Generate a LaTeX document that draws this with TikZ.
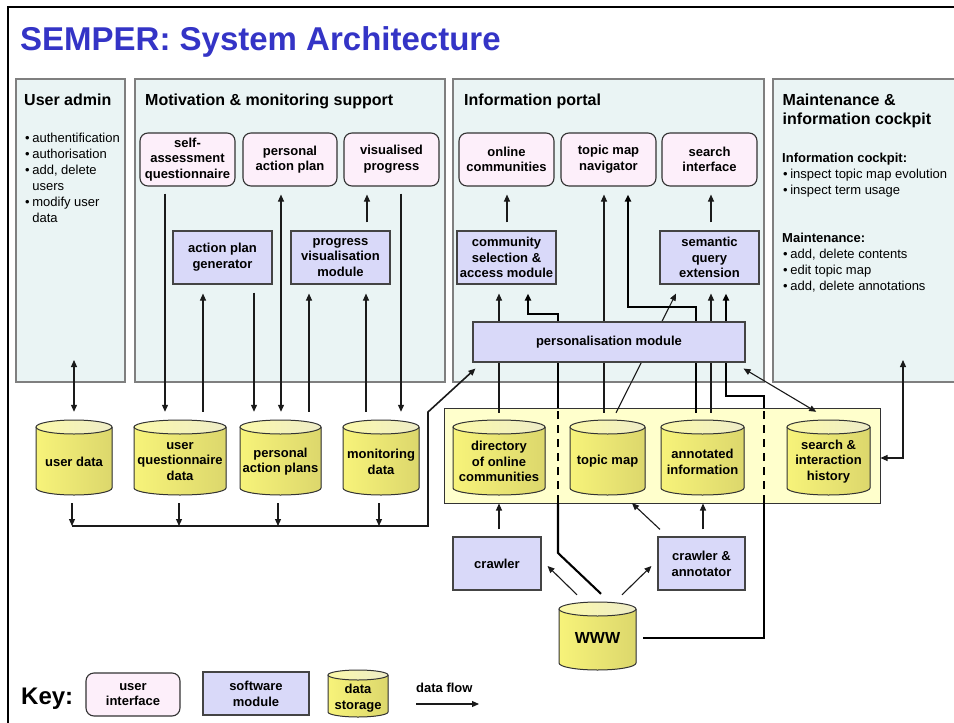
\documentclass[tikz,border=0pt]{standalone}
\usepackage{fontspec}
\setmainfont{Liberation Sans}
\usetikzlibrary{arrows.meta}
\definecolor{panelfill}{HTML}{EAF4F4}
\definecolor{panelline}{HTML}{7F7F7F}
\definecolor{uifill}{HTML}{FDEFFA}
\definecolor{uiline}{HTML}{333333}
\definecolor{swfill}{HTML}{D9D9F9}
\definecolor{swline}{HTML}{444444}
\definecolor{storebox}{HTML}{FFFFCC}
\definecolor{storeline}{HTML}{333333}
\definecolor{cylA}{HTML}{F7F37A}
\definecolor{cylB}{HTML}{DCD76C}
\definecolor{cylTopA}{HTML}{FBF9A8}
\definecolor{cylTopB}{HTML}{EEECC8}
\definecolor{cylborder}{HTML}{333333}
\definecolor{titleblue}{HTML}{3434C6}
\definecolor{ink}{HTML}{1A1A1A}
\pgfdeclarelayer{bglayer}
\pgfdeclarelayer{linelayer}
\pgfsetlayers{bglayer,linelayer,main}
\newcommand\boxfont{\fontsize{13}{15.7}\selectfont\bfseries}
\newcommand\txtfont{\fontsize{13}{16}\selectfont}
\newcommand\cylry{7}
% name, x0, x1, y0, y1, text offset, text
\newcommand\mycyl[7]{%
  \pgfmathsetmacro\cylxc{(#2+#3)/2}%
  \pgfmathsetmacro\cylrx{(#3-#2)/2}%
  \pgfmathsetmacro\cylyc{(#4+#5)/2}%
  \pgfmathsetmacro\cylw{#3-#2}%
  \pgfmathsetmacro\cylh{#5-#4}%
  \fill[left color=cylA,right color=cylB] (#2,#4+\cylry) -- (#2,#5-\cylry) arc[start angle=180,end angle=360,x radius=\cylrx pt,y radius=\cylry pt] -- (#3,#4+\cylry) -- cycle;
  \draw[cylline] (#2,#4+\cylry) -- (#2,#5-\cylry) arc[start angle=180,end angle=360,x radius=\cylrx pt,y radius=\cylry pt] -- (#3,#4+\cylry);
  \draw[cylline,left color=cylTopA,right color=cylTopB] (\cylxc,#4+\cylry) ellipse[x radius=\cylrx pt,y radius=\cylry pt];
  \node[inner sep=0pt,minimum width=\cylw pt,minimum height=\cylh pt] (#1) at (\cylxc,\cylyc) {};
  \node[align=center,font=\boxfont,inner sep=0pt] (#1-t) at (\cylxc,\cylyc+#6) {#7};
}
\begin{document}
\begin{tikzpicture}[x=1pt,y=-1pt,
  panel/.style={draw=panelline,fill=panelfill,line width=1.2pt,inner sep=0pt},
  ptitle/.style={anchor=base west,inner sep=0pt,font=\fontsize{16}{19}\selectfont\bfseries},
  ui/.style={draw=uiline,fill=uifill,rounded corners=8pt,line width=1.1pt,inner sep=0pt,align=center,font=\boxfont},
  sw/.style={draw=swline,fill=swfill,line width=1.1pt,inner sep=0pt,align=center,font=\boxfont},
  cylline/.style={draw=cylborder,line width=1pt},
  arr/.style={-{Triangle[length=7pt,width=6pt]},line width=1.1pt,draw=ink},
  darr/.style={{Triangle[length=7pt,width=6pt]}-{Triangle[length=7pt,width=6pt]},line width=1.1pt,draw=ink},
  thk/.style={line width=2.1pt,draw=black},
  thkarr/.style={line width=2.1pt,draw=black,-{Triangle[length=7pt,width=6pt]}},
  dsh/.style={line width=2pt,draw=black,dash pattern=on 8pt off 6pt},
  txt/.style={anchor=base west,inner sep=0pt,font=\txtfont}]
\useasboundingbox (0,0) rectangle (954,723);

% outer frame
\draw[line width=2.2pt] (8,735) -- (8,7) -- (965,7);

% title
\node[anchor=base west,inner sep=0pt,text=titleblue,font=\fontsize{33}{38}\selectfont\bfseries] (title) at (20,50) {SEMPER: System Architecture};

\begin{pgfonlayer}{bglayer}
\node[panel,minimum width=109pt,minimum height=303pt] (pUA) at (70.5,230.5) {};
\node[panel,minimum width=310pt,minimum height=303pt] (pMM) at (290,230.5) {};
\node[panel,minimum width=311pt,minimum height=303pt] (pIP) at (608.5,230.5) {};
\node[panel,minimum width=202pt,minimum height=303pt] (pMC) at (874,230.5) {};
\node[draw=storeline,fill=storebox,line width=1pt,inner sep=0pt,minimum width=436pt,minimum height=95pt] (sg) at (662,455.5) {};
\end{pgfonlayer}

% panel titles
\node[ptitle] (tUA) at (24,105) {User admin};
\node[ptitle] (tMM) at (145,105) {Motivation \& monitoring support};
\node[ptitle] (tIP) at (464,105) {Information portal};
\node[ptitle] (tMCa) at (782.5,105) {Maintenance \&};
\node[ptitle] (tMCb) at (782.5,124) {information cockpit};

% panel texts
\node[txt] (uaList) at (25,142.7) {\begin{tabular}[t]{@{}l@{\hspace{2.6pt}}l@{}}•&authentification\\•&authorisation\\•&add, delete\\&users\\•&modify user\\&data\end{tabular}};
\node[txt,font=\txtfont\bfseries] (mcH1) at (782,162.7) {Information cockpit:};
\node[txt] (mcL1) at (783,178.3) {\begin{tabular}[t]{@{}l@{\hspace{2.6pt}}l@{}}•&inspect topic map evolution\\•&inspect term usage\end{tabular}};
\node[txt,font=\txtfont\bfseries] (mcH2) at (782,242.3) {Maintenance:};
\node[txt] (mcL2) at (783,258.3) {\begin{tabular}[t]{@{}l@{\hspace{2.6pt}}l@{}}•&add, delete contents\\•&edit topic map\\•&add, delete annotations\end{tabular}};

% user interfaces
\node[ui,minimum width=95pt,minimum height=53pt] (sa) at (187.5,159.5) {self-\\assessment\\questionnaire};
\node[ui,minimum width=94pt,minimum height=53pt] (pap) at (290,159.5) {personal\\action plan};
\node[ui,minimum width=95pt,minimum height=53pt] (vp) at (391.5,159.5) {visualised\\progress};
\node[ui,minimum width=95pt,minimum height=53pt] (oc) at (506.5,159.5) {online\\communities};
\node[ui,minimum width=95pt,minimum height=53pt] (tmn) at (608.5,159.5) {topic map\\navigator};
\node[ui,minimum width=95pt,minimum height=53pt] (si) at (709.5,159.5) {search\\interface};

% software modules
\node[sw,minimum width=99pt,minimum height=53pt] (apg) at (222.5,257.5) {action plan\\generator};
\node[sw,minimum width=99pt,minimum height=53pt] (pvm) at (340.5,257.5) {progress\\visualisation\\module};
\node[sw,minimum width=99pt,minimum height=53pt] (csa) at (506.5,257.5) {community\\selection \&\\access module};
\node[sw,minimum width=99pt,minimum height=53pt] (sqe) at (709.5,257.5) {semantic\\query\\extension};
\node[sw,minimum width=272pt,minimum height=40pt] (pm) at (609,342) {personalisation module};
\node[sw,minimum width=88pt,minimum height=53pt] (cr) at (497,563.5) {crawler};
\node[sw,minimum width=87pt,minimum height=53pt] (ca) at (701.5,563.5) {crawler \&\\annotator};

% data storage
\mycyl{ud}{36}{112}{420}{495}{4}{user data}
\mycyl{uqd}{134}{226}{420}{495}{4}{user\\questionnaire\\data}
\mycyl{papl}{240}{321}{420}{495}{4}{personal\\action plans}
\mycyl{md}{343}{419}{420}{495}{4}{monitoring\\data}
\mycyl{doc}{453}{545}{420}{495}{4}{directory\\of online\\communities}
\mycyl{tm}{570}{645}{420}{495}{4}{topic map}
\mycyl{ai}{661}{744}{420}{495}{4}{annotated\\information}
\mycyl{sih}{787}{870}{420}{495}{4}{search \&\\interaction\\history}
\mycyl{www}{559}{636}{602}{670}{2}{\fontsize{16}{19}\selectfont WWW}

% key
\node[anchor=base west,inner sep=0pt,font=\fontsize{24}{28}\selectfont\bfseries] (key) at (21,704) {Key:};
\node[ui,minimum width=94pt,minimum height=43pt] (kui) at (133,694.5) {user\\interface};
\node[sw,minimum width=106pt,minimum height=43pt] (ksw) at (256,693.5) {software\\module};
\renewcommand\cylry{5}
\mycyl{kds}{328}{388}{670}{717}{4.5}{data\\storage}
\node[anchor=base west,inner sep=0pt,font=\boxfont] (kdf) at (416,692) {data flow};

\begin{pgfonlayer}{linelayer}
\coordinate (kfa) at (416,704);
\coordinate (kfb) at (479,704);
\draw[arr] (kfa) -- (kfb);

% motivation & user admin
\coordinate (uain) at (74,360);
\draw[darr,shorten >=8pt] (uain) -- (74,0 |- ud.north);
\draw[arr,shorten <=7pt,shorten >=8pt] (165,0 |- sa.south) -- (165,0 |- uqd.north);
\draw[arr,shorten <=8pt,shorten >=9pt] (203,0 |- uqd.north) -- (203,0 |- apg.south);
\draw[arr,shorten <=8pt,shorten >=8pt] (254,0 |- apg.south) -- (254,0 |- papl.north);
\draw[darr,shorten <=8pt,shorten >=8pt] (281,0 |- pap.south) -- (281,0 |- papl.north);
\draw[arr,shorten <=8pt,shorten >=9pt] (309,0 |- papl.north) -- (309,0 |- pvm.south);
\draw[arr,shorten <=8pt,shorten >=9pt] (366,0 |- md.north) -- (366,0 |- pvm.south);
\draw[arr,shorten <=8pt,shorten >=8pt] (367,0 |- pvm.north) -- (367,0 |- vp.south);
\draw[arr,shorten <=7pt,shorten >=8pt] (401,0 |- vp.south) -- (401,0 |- md.north);

% information portal
\draw[arr,shorten <=8pt,shorten >=8pt] (507,0 |- csa.north) -- (507,0 |- oc.south);
\draw[arr,shorten <=8pt,shorten >=8pt] (711,0 |- sqe.north) -- (711,0 |- si.south);
\draw[arr,shorten <=7pt,shorten >=9pt] (499,0 |- doc.north) -- (499,0 |- csa.south);
\draw[arr,shorten <=7pt,shorten >=8pt] (604,0 |- tm.north) -- (604,0 |- tmn.south);
\draw[arr] ([xshift=8.5pt,yshift=7pt]tm.north) -- ([xshift=-33.5pt,yshift=-9pt]sqe.south);
\draw[arr,shorten <=7pt,shorten >=9pt] (711,0 |- ai.north) -- (711,0 |- sqe.south);
\draw[thkarr] ([xshift=-6.5pt,yshift=7pt]ai.north) |- (628,307) -- ([xshift=19.5pt,yshift=-8pt]tmn.south);

% WWW to community selection
\coordinate (dA1) at (558,503);
\coordinate (dA2) at (558,408);
\draw[thk] ([xshift=3.5pt,yshift=8pt]www.north) -- (558,553) -- (dA1);
\draw[dsh] (dA1) -- (dA2);
\draw[thkarr] (dA2) -- (558,314) -- (528,314) -- ([xshift=21.5pt,yshift=-9pt]csa.south);

% WWW to semantic query extension
\coordinate (dB1) at (764,503);
\coordinate (dB2) at (764,408);
\draw[thk] ([xshift=7pt,yshift=-2pt]www.east) -| (dB1);
\draw[dsh] (dB1) -- (dB2);
\draw[thkarr] (dB2) -- (764,396) -- (726,396) -- ([xshift=16.5pt,yshift=-9pt]sqe.south);

% personalisation and history
\draw[darr] ([xshift=-2pt,yshift=-6pt]pm.south east) -- ([xshift=-12.3pt,yshift=8pt]sih.north);
\coordinate (mcin) at (903,360);
\draw[darr] (mcin) |- ([yshift=-2.5pt]sg.east);

% bus
\coordinate (busL) at (72,526);
\coordinate (busR) at (428,526);
\draw[arr,shorten <=8pt] (72,0 |- ud.south) -- (72,0 |- busL);
\draw[arr,shorten <=8pt] (179,0 |- uqd.south) -- (179,0 |- busL);
\draw[arr,shorten <=8pt] (278,0 |- papl.south) -- (278,0 |- busL);
\draw[arr,shorten <=8pt] (379,0 |- md.south) -- (379,0 |- busL);
\draw[line width=1.6pt,draw=ink,-{Triangle[length=7pt,width=6pt]}] (busL) -- (busR) -- (428,412) -- ([xshift=3pt,yshift=-6pt]pm.south west);

% crawlers
\draw[arr,shorten <=7pt] (499,0 |- cr.north) -- (499,0 |- sg.south);
\draw[arr] ([xshift=-41.5pt,yshift=7pt]ca.north) -- ([xshift=24.5pt,yshift=-8pt]tm.south);
\draw[arr,shorten <=7pt] (703,0 |- ca.north) -- (703,0 |- sg.south);
\draw[arr] ([xshift=-20.5pt,yshift=7pt]www.north) -- ([xshift=6pt,yshift=-2.5pt]cr.east);
\draw[arr] ([xshift=24.5pt,yshift=7pt]www.north) -- ([xshift=-6pt,yshift=-2.5pt]ca.west);
\end{pgfonlayer}
\end{tikzpicture}
\end{document}
